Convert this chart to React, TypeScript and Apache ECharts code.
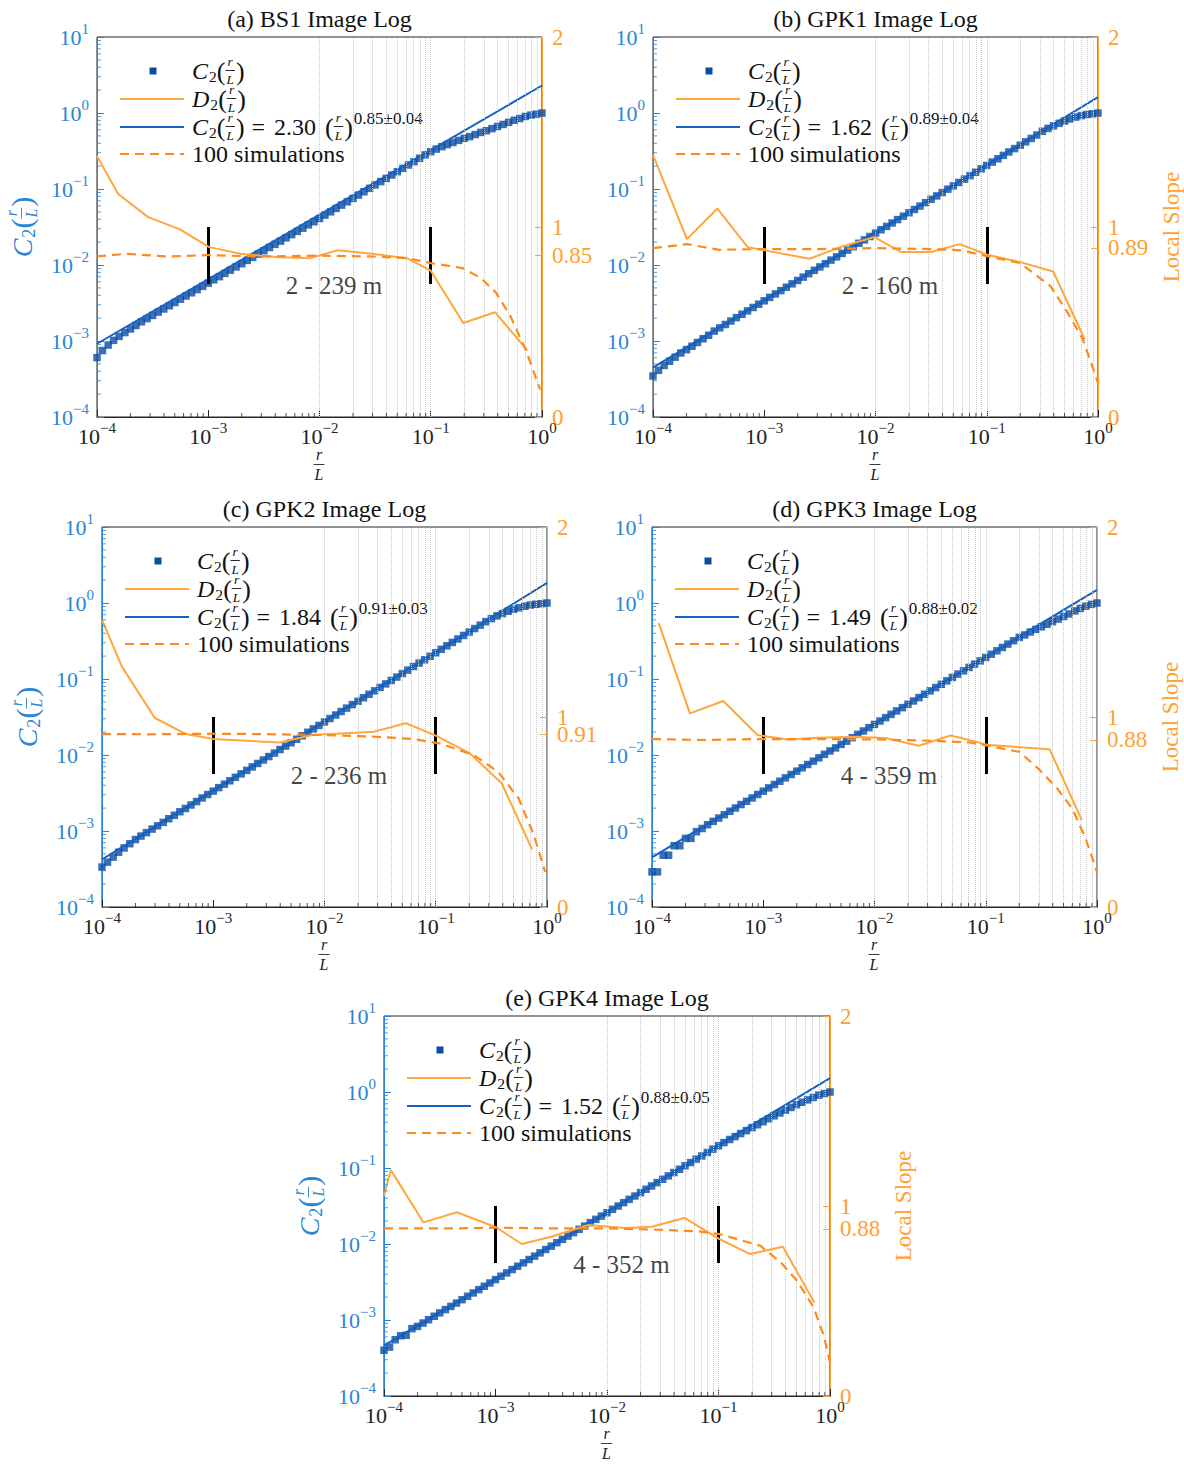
import React, { useEffect, useRef } from 'react';
import * as echarts from 'echarts';

const SERIF = '"Liberation Serif", "Times New Roman", Times, serif';

// ---------- data ----------
const TITLES = ['(a) BS1 Image Log', '(b) GPK1 Image Log', '(c) GPK2 Image Log', '(d) GPK3 Image Log', '(e) GPK4 Image Log'];
const RANGE_TEXT = ['2 - 239 m', '2 - 160 m', '2 - 236 m', '4 - 359 m', '4 - 352 m'];
const FIT_COEF = ['2.30', '1.62', '1.84', '1.49', '1.52'];
const FIT_EXP = ['0.85\u00b10.04', '0.89\u00b10.04', '0.91\u00b10.03', '0.88\u00b10.02', '0.88\u00b10.05'];
const SLOPE_TICK = [0.85, 0.89, 0.91, 0.88, 0.88];
const FIT_X = [1e-4, 1];
const FIT_A = [9.2e-4, 2.3];
const FIT_B = [4.46e-4, 1.62];
const FIT_C = [4.22e-4, 1.84];
const FIT_D = [4.5e-4, 1.49];
const FIT_E = [4.59e-4, 1.52];
const BAR_X = [1e-3, 0.1];
const BAR_Y = [0.7, 1.0];
const RANGE_POS = [0.0135, 0.69];

const X_RL = [
  1e-4, 1.12e-4, 1.26e-4, 1.41e-4, 1.58e-4, 1.78e-4, 2e-4, 2.24e-4, 2.51e-4, 2.82e-4,
  3.16e-4, 3.55e-4, 3.98e-4, 4.47e-4, 5.01e-4, 5.62e-4, 6.31e-4, 7.08e-4, 7.94e-4, 8.91e-4,
  1e-3, 1.12e-3, 1.26e-3, 1.41e-3, 1.58e-3, 1.78e-3, 2e-3, 2.24e-3, 2.51e-3, 2.82e-3,
  3.16e-3, 3.55e-3, 3.98e-3, 4.47e-3, 5.01e-3, 5.62e-3, 6.31e-3, 7.08e-3, 7.94e-3, 8.91e-3,
  1e-2, 1.12e-2, 1.26e-2, 1.41e-2, 1.58e-2, 1.78e-2, 2e-2, 2.24e-2, 2.51e-2, 2.82e-2,
  3.16e-2, 3.55e-2, 3.98e-2, 4.47e-2, 5.01e-2, 5.62e-2, 6.31e-2, 7.08e-2, 7.94e-2, 8.91e-2,
  0.1, 0.112, 0.126, 0.141, 0.158, 0.178, 0.2, 0.224, 0.251, 0.282,
  0.316, 0.355, 0.398, 0.447, 0.501, 0.562, 0.631, 0.708, 0.794, 0.891,
  1,
];

const C2_A = [
  6.05e-4, 7.49e-4, 8.85e-4, 1.02e-3, 1.15e-3, 1.29e-3, 1.44e-3, 1.6e-3, 1.79e-3, 1.97e-3,
  2.17e-3, 2.4e-3, 2.64e-3, 2.91e-3, 3.21e-3, 3.54e-3, 3.91e-3, 4.31e-3, 4.75e-3, 5.24e-3,
  5.78e-3, 6.38e-3, 7.03e-3, 7.75e-3, 8.55e-3, 9.43e-3, 1.04e-2, 1.15e-2, 1.26e-2, 1.39e-2,
  1.54e-2, 1.7e-2, 1.87e-2, 2.06e-2, 2.28e-2, 2.51e-2, 2.77e-2, 3.05e-2, 3.37e-2, 3.71e-2,
  4.09e-2, 4.53e-2, 5.01e-2, 5.55e-2, 6.14e-2, 6.79e-2, 7.52e-2, 8.32e-2, 9.2e-2, 0.102,
  0.113, 0.125, 0.138, 0.153, 0.169, 0.187, 0.207, 0.229, 0.254, 0.281,
  0.31, 0.335, 0.361, 0.384, 0.409, 0.436, 0.465, 0.489, 0.521, 0.555,
  0.585, 0.623, 0.664, 0.707, 0.753, 0.803, 0.845, 0.901, 0.938, 0.965,
  1.0,
];
const C2_B = [
  3.46e-4, 4.11e-4, 4.77e-4, 5.41e-4, 6.13e-4, 6.95e-4, 7.7e-4, 8.53e-4, 9.56e-4, 1.07e-3,
  1.19e-3, 1.35e-3, 1.49e-3, 1.65e-3, 1.83e-3, 2.03e-3, 2.25e-3, 2.49e-3, 2.76e-3, 3.05e-3,
  3.38e-3, 3.75e-3, 4.16e-3, 4.6e-3, 5.1e-3, 5.65e-3, 6.26e-3, 6.93e-3, 7.68e-3, 8.51e-3,
  9.43e-3, 1.04e-2, 1.16e-2, 1.28e-2, 1.42e-2, 1.57e-2, 1.74e-2, 1.93e-2, 2.14e-2, 2.37e-2,
  2.63e-2, 2.91e-2, 3.22e-2, 3.57e-2, 3.96e-2, 4.39e-2, 4.86e-2, 5.38e-2, 5.96e-2, 6.61e-2,
  7.32e-2, 8.11e-2, 8.98e-2, 9.95e-2, 0.11, 0.122, 0.135, 0.15, 0.166, 0.184,
  0.204, 0.226, 0.25, 0.277, 0.307, 0.34, 0.377, 0.418, 0.463, 0.513,
  0.575, 0.627, 0.678, 0.731, 0.784, 0.836, 0.884, 0.925, 0.956, 0.977,
  1.0,
];
const C2_C = [
  3.35e-4, 3.89e-4, 4.53e-4, 5.26e-4, 5.98e-4, 6.8e-4, 7.72e-4, 8.58e-4, 9.52e-4, 1.06e-3,
  1.17e-3, 1.3e-3, 1.45e-3, 1.61e-3, 1.79e-3, 1.98e-3, 2.2e-3, 2.44e-3, 2.72e-3, 3.02e-3,
  3.35e-3, 3.72e-3, 4.13e-3, 4.58e-3, 5.09e-3, 5.65e-3, 6.28e-3, 6.97e-3, 7.74e-3, 8.6e-3,
  9.54e-3, 1.06e-2, 1.18e-2, 1.31e-2, 1.45e-2, 1.61e-2, 1.79e-2, 1.99e-2, 2.21e-2, 2.45e-2,
  2.72e-2, 3.02e-2, 3.36e-2, 3.73e-2, 4.14e-2, 4.6e-2, 5.1e-2, 5.67e-2, 6.29e-2, 6.99e-2,
  7.76e-2, 8.62e-2, 9.57e-2, 0.106, 0.118, 0.131, 0.146, 0.162, 0.179, 0.199,
  0.221, 0.246, 0.273, 0.303, 0.336, 0.374, 0.415, 0.461, 0.511, 0.568,
  0.623, 0.677, 0.726, 0.779, 0.826, 0.866, 0.907, 0.94, 0.963, 0.98,
  1.0,
];
const C2_D = [
  2.9e-4, 2.9e-4, 4.8e-4, 4.8e-4, 6.4e-4, 6.4e-4, 8.0e-4, 8.0e-4, 9.8e-4, 1.08e-3,
  1.21e-3, 1.34e-3, 1.48e-3, 1.64e-3, 1.82e-3, 2.01e-3, 2.23e-3, 2.46e-3, 2.72e-3, 3.02e-3,
  3.34e-3, 3.69e-3, 4.09e-3, 4.52e-3, 5.0e-3, 5.54e-3, 6.13e-3, 6.78e-3, 7.5e-3, 8.3e-3,
  9.19e-3, 1.02e-2, 1.13e-2, 1.24e-2, 1.38e-2, 1.52e-2, 1.69e-2, 1.87e-2, 2.07e-2, 2.29e-2,
  2.53e-2, 2.8e-2, 3.1e-2, 3.43e-2, 3.8e-2, 4.2e-2, 4.65e-2, 5.14e-2, 5.69e-2, 6.3e-2,
  6.97e-2, 7.71e-2, 8.53e-2, 9.45e-2, 0.105, 0.116, 0.128, 0.142, 0.157, 0.173,
  0.192, 0.212, 0.235, 0.26, 0.288, 0.319, 0.353, 0.38, 0.415, 0.449,
  0.486, 0.525, 0.568, 0.614, 0.664, 0.718, 0.786, 0.85, 0.908, 0.96,
  1.0,
];
const C2_E = [
  4.0e-4, 4.4e-4, 5.5e-4, 6.2e-4, 6.3e-4, 7.7e-4, 8.24e-4, 9.12e-4, 1.01e-3, 1.12e-3,
  1.24e-3, 1.37e-3, 1.51e-3, 1.67e-3, 1.85e-3, 2.05e-3, 2.27e-3, 2.51e-3, 2.78e-3, 3.07e-3,
  3.4e-3, 3.77e-3, 4.17e-3, 4.61e-3, 5.1e-3, 5.65e-3, 6.25e-3, 6.92e-3, 7.65e-3, 8.47e-3,
  9.37e-3, 1.04e-2, 1.15e-2, 1.27e-2, 1.41e-2, 1.56e-2, 1.72e-2, 1.91e-2, 2.11e-2, 2.33e-2,
  2.58e-2, 2.86e-2, 3.16e-2, 3.5e-2, 3.87e-2, 4.28e-2, 4.74e-2, 5.25e-2, 5.8e-2, 6.42e-2,
  7.11e-2, 7.87e-2, 8.71e-2, 9.63e-2, 0.107, 0.118, 0.131, 0.144, 0.16, 0.177,
  0.196, 0.216, 0.237, 0.259, 0.284, 0.31, 0.34, 0.371, 0.406, 0.444,
  0.486, 0.529, 0.575, 0.626, 0.681, 0.732, 0.787, 0.847, 0.91, 0.954,
  1.0,
];

const D2X_A = [1e-4, 1.55e-4, 2.88e-4, 5.5e-4, 1.02e-3, 1.95e-3, 4.07e-3, 8.04e-3, 1.45e-2, 2.95e-2, 6.1e-2, 0.1, 0.196, 0.379, 0.736];
const D2Y_A = [1.373, 1.174, 1.052, 0.989, 0.894, 0.859, 0.842, 0.835, 0.877, 0.859, 0.836, 0.77, 0.495, 0.551, 0.352];
const SIMX_A = [1e-4, 1.82e-4, 4.22e-4, 9.77e-4, 2.88e-3, 9.77e-3, 2.82e-2, 6.17e-2, 0.1, 0.193, 0.282, 0.384, 0.521, 0.708, 0.962];
const SIMY_A = [0.845, 0.859, 0.845, 0.852, 0.845, 0.849, 0.845, 0.836, 0.81, 0.784, 0.731, 0.656, 0.53, 0.359, 0.145];

const D2X_B = [1e-4, 2.02e-4, 3.79e-4, 7.1e-4, 1.01e-3, 2.55e-3, 5.04e-3, 9.79e-3, 1.7e-2, 3.18e-2, 5.71e-2, 0.101, 0.2, 0.396, 0.76];
const D2Y_B = [1.379, 0.936, 1.097, 0.894, 0.877, 0.833, 0.898, 0.947, 0.868, 0.868, 0.91, 0.854, 0.815, 0.766, 0.408];
const SIMX_B = [1e-4, 2.02e-4, 3.94e-4, 1.01e-3, 3.03e-3, 9.79e-3, 3.18e-2, 5.94e-2, 0.103, 0.2, 0.375, 0.535, 0.731, 1.0];
const SIMY_B = [0.889, 0.91, 0.88, 0.884, 0.884, 0.889, 0.884, 0.877, 0.845, 0.81, 0.688, 0.548, 0.408, 0.18];

const D2X_C = [1e-4, 1.51e-4, 2.97e-4, 5.68e-4, 1e-3, 3.97e-3, 7.71e-3, 2.79e-2, 5.4e-2, 0.1, 0.203, 0.393, 0.733];
const D2Y_C = [1.511, 1.265, 0.996, 0.91, 0.884, 0.866, 0.905, 0.923, 0.967, 0.902, 0.808, 0.65, 0.304];
const SIMX_C = [1e-4, 2.71e-4, 1e-3, 2.8e-3, 1.01e-2, 2.9e-2, 6.31e-2, 0.109, 0.219, 0.363, 0.557, 0.762, 0.962];
const SIMY_C = [0.91, 0.909, 0.912, 0.91, 0.905, 0.896, 0.884, 0.861, 0.8, 0.712, 0.571, 0.378, 0.185];

const D2X_D = [1.15e-4, 2.19e-4, 4.38e-4, 8.87e-4, 1.66e-3, 3.12e-3, 6.84e-3, 1.28e-2, 2.49e-2, 4.86e-2, 0.107, 0.375, 0.731];
const D2Y_D = [1.494, 1.019, 1.084, 0.905, 0.882, 0.891, 0.896, 0.888, 0.849, 0.903, 0.852, 0.83, 0.457];
const SIMX_D = [1e-4, 2.95e-4, 9.59e-4, 3.12e-3, 1.01e-2, 3.29e-2, 7.21e-2, 0.115, 0.2, 0.296, 0.439, 0.6, 0.791, 1.0];
const SIMY_D = [0.884, 0.879, 0.884, 0.884, 0.882, 0.875, 0.866, 0.844, 0.817, 0.729, 0.624, 0.518, 0.36, 0.185];

const D2X_E = [1e-4, 1.15e-4, 2.25e-4, 4.51e-4, 1.01e-3, 1.72e-3, 3.16e-3, 6.78e-3, 1.45e-2, 2.52e-2, 4.95e-2, 0.102, 0.192, 0.378, 0.724];
const D2Y_E = [1.054, 1.19, 0.914, 0.967, 0.888, 0.8, 0.838, 0.9, 0.884, 0.891, 0.937, 0.826, 0.747, 0.786, 0.492];
const SIMX_E = [1e-4, 4.15e-4, 1.01e-3, 3.44e-3, 1.02e-2, 2.86e-2, 6.67e-2, 0.102, 0.237, 0.362, 0.508, 0.713, 0.881, 1.0];
const SIMY_E = [0.882, 0.882, 0.886, 0.882, 0.882, 0.875, 0.866, 0.852, 0.791, 0.703, 0.606, 0.466, 0.316, 0.176];

const MINOR_X = [
  2e-4, 3e-4, 4e-4, 5e-4, 6e-4, 7e-4, 8e-4, 9e-4,
  2e-3, 3e-3, 4e-3, 5e-3, 6e-3, 7e-3, 8e-3, 9e-3,
  2e-2, 3e-2, 4e-2, 5e-2, 6e-2, 7e-2, 8e-2, 9e-2,
  0.2, 0.3, 0.4, 0.5, 0.6, 0.7, 0.8, 0.9,
];
const MAJOR_X_INNER = [1e-3, 1e-2, 1e-1];
const MINOR_Y = [
  2e-4, 3e-4, 4e-4, 5e-4, 6e-4, 7e-4, 8e-4, 9e-4,
  2e-3, 3e-3, 4e-3, 5e-3, 6e-3, 7e-3, 8e-3, 9e-3,
  2e-2, 3e-2, 4e-2, 5e-2, 6e-2, 7e-2, 8e-2, 9e-2,
  0.2, 0.3, 0.4, 0.5, 0.6, 0.7, 0.8, 0.9,
  2, 3, 4, 5, 6, 7, 8, 9,
];

// ---------- layout / style ----------
const LAYOUT = [
  { L: 97, T: 37, W: 445, H: 380, leftLabel: true, rightLabel: false },
  { L: 653, T: 37, W: 445, H: 380, leftLabel: false, rightLabel: true },
  { L: 102, T: 527, W: 445, H: 380, leftLabel: true, rightLabel: false },
  { L: 652, T: 527, W: 445, H: 380, leftLabel: false, rightLabel: true },
  { L: 384, T: 1016, W: 446, H: 380, leftLabel: true, rightLabel: true },
];
const AX_BLUE = '#2a85d6';
const MARK_BLUE = '#0a4ca3';
const FIT_BLUE = '#1062c4';
const AX_ORANGE = '#ffa030';
const D2_ORANGE = '#ffa63c';
const SIM_ORANGE = '#ff8a1c';
const DARK = '#262626';

let measureCtx: CanvasRenderingContext2D | null = null;
function measure(t: string, size: number, italic: boolean) {
  if (!measureCtx) measureCtx = document.createElement('canvas').getContext('2d');
  measureCtx!.font = `${italic ? 'italic ' : ''}${size}px ${SERIF}`;
  return measureCtx!.measureText(t).width;
}

type Frag = { t?: string; frac?: [string, string]; gap?: number; size: number; italic?: boolean; dy?: number };

function textEl(t: string, x: number, y: number, size: number, italic: boolean, color: string, align = 'left') {
  const font = `${italic ? 'italic ' : ''}${size}px ${SERIF}`;
  return {
    type: 'text', x, y, silent: true,
    style: { text: t, font, fill: color, align, verticalAlign: 'middle', textAlign: align, textVerticalAlign: 'middle' },
  };
}

function mathGroup(frags: Frag[], color: string, x: number, y: number, rotation = 0, center = false) {
  const els: any[] = [];
  let cx = 0;
  for (const f of frags) {
    if (f.gap !== undefined) {
      cx += f.gap;
    } else if (f.frac) {
      const w = Math.max(measure(f.frac[0], f.size, true), measure(f.frac[1], f.size, true)) + 2;
      els.push(textEl(f.frac[0], cx + w / 2, -f.size * 0.58 - 1.5, f.size, true, color, 'center'));
      els.push(textEl(f.frac[1], cx + w / 2, f.size * 0.58 + 0.5, f.size, true, color, 'center'));
      els.push({ type: 'line', silent: true, shape: { x1: cx, y1: -0.5, x2: cx + w, y2: -0.5 }, style: { stroke: color, lineWidth: 0.9 } });
      cx += w + 1;
    } else {
      const t = f.t as string;
      els.push(textEl(t, cx, f.dy || 0, f.size, !!f.italic, color));
      cx += measure(t, f.size, !!f.italic) + (f.italic ? 1 : 0);
    }
  }
  return {
    type: 'group', x, y, rotation, z: 100,
    children: [{ type: 'group', x: center ? -cx / 2 : 0, y: 0, children: els }],
  };
}

function c2Frags(size: number, letter = 'C'): Frag[] {
  return [
    { t: letter, size, italic: true },
    { t: '2', size: size * 0.65, dy: size * 0.24 },
    { t: '(', size: size * 1.08 },
    { frac: ['r', 'L'], size: size * 0.56 },
    { t: ')', size: size * 1.08 },
  ];
}

const supLabel = (v: number) => {
  const e = Math.round(Math.log10(v));
  return `{b|10}{s|${e < 0 ? '\u2212' + -e : e}}`;
};
const supRich = (color: string) => ({
  b: { fontSize: 22, fontFamily: SERIF, color, lineHeight: 32 },
  s: { fontSize: 15, fontFamily: SERIF, color, verticalAlign: 'top', lineHeight: 16 },
});

function buildOption() {
  const C2 = [C2_A, C2_B, C2_C, C2_D, C2_E];
  const FIT = [FIT_A, FIT_B, FIT_C, FIT_D, FIT_E];
  const D2X = [D2X_A, D2X_B, D2X_C, D2X_D, D2X_E];
  const D2Y = [D2Y_A, D2Y_B, D2Y_C, D2Y_D, D2Y_E];
  const SX = [SIMX_A, SIMX_B, SIMX_C, SIMX_D, SIMX_E];
  const SY = [SIMY_A, SIMY_B, SIMY_C, SIMY_D, SIMY_E];

  const grid: any[] = [];
  const xAxis: any[] = [];
  const yAxis: any[] = [];
  const series: any[] = [];
  const graphic: any[] = [];

  LAYOUT.forEach((p, i) => {
    grid.push({ left: p.L, top: p.T, width: p.W, height: p.H, show: true, borderColor: DARK, borderWidth: 1, backgroundColor: 'transparent' });
    xAxis.push({
      type: 'log', logBase: 10, gridIndex: i, min: 1e-4, max: 1,
      axisLine: { show: true, lineStyle: { color: DARK, width: 1 } },
      axisTick: { show: true, inside: true, length: 7, lineStyle: { color: DARK } },
      splitLine: { show: false },
      axisLabel: { formatter: supLabel, rich: supRich('#222'), margin: 3, showMinLabel: true, showMaxLabel: true },
    });
    const ticks = [0, SLOPE_TICK[i], 1, 2];
    yAxis.push({
      type: 'log', logBase: 10, gridIndex: i, position: 'left', min: 1e-4, max: 10,
      axisLine: { show: true, lineStyle: { color: AX_BLUE, width: 1 } },
      axisTick: { show: true, inside: true, length: 7, lineStyle: { color: AX_BLUE } },
      splitLine: { show: false },
      axisLabel: { formatter: supLabel, rich: supRich(AX_BLUE), margin: 8, showMinLabel: true, showMaxLabel: true },
    });
    yAxis.push({
      type: 'value', gridIndex: i, position: 'right', min: 0, max: 2,
      axisLine: { show: true, lineStyle: { color: AX_ORANGE, width: 1 } },
      axisTick: { show: true, inside: true, length: 7, lineStyle: { color: AX_ORANGE }, customValues: ticks },
      splitLine: { show: false },
      axisLabel: { customValues: ticks, fontSize: 23, fontFamily: SERIF, color: AX_ORANGE, margin: 10 },
    });

    const yl = 2 * i;
    const yr = 2 * i + 1;
    series.push({
      type: 'line', xAxisIndex: i, yAxisIndex: yl, data: [[1e-4, 1e-4]], symbol: 'none', silent: true, z: 1,
      lineStyle: { opacity: 0 },
      markLine: {
        silent: true, symbol: ['none', 'none'], label: { show: false },
        lineStyle: { color: '#c6c6c6', type: 'dotted', width: 1 },
        data: MINOR_X.concat(MAJOR_X_INNER).map((v) => ({ xAxis: v })),
      },
    });
    series.push({
      type: 'scatter', xAxisIndex: i, yAxisIndex: yl, silent: true, clip: false, z: 6,
      data: MINOR_X.map((v) => [v, 1e-4]), symbol: 'rect', symbolSize: [1, 4], symbolOffset: [0, -2],
      itemStyle: { color: DARK },
    });
    series.push({
      type: 'scatter', xAxisIndex: i, yAxisIndex: yl, silent: true, clip: false, z: 6,
      data: MINOR_Y.map((v) => [1e-4, v]), symbol: 'rect', symbolSize: [4, 1], symbolOffset: [2, 0],
      itemStyle: { color: AX_BLUE },
    });
    series.push({
      type: 'scatter', xAxisIndex: i, yAxisIndex: yl, z: 3, silent: true,
      data: X_RL.map((x, k) => [x, C2[i][k]]), symbol: 'rect', symbolSize: 7.5,
      itemStyle: { color: MARK_BLUE },
    });
    series.push({
      type: 'line', xAxisIndex: i, yAxisIndex: yl, z: 4, silent: true, symbol: 'none',
      data: FIT_X.map((x, k) => [x, FIT[i][k]]), lineStyle: { color: FIT_BLUE, width: 2 },
    });
    series.push({
      type: 'line', xAxisIndex: i, yAxisIndex: yr, z: 5, silent: true, symbol: 'none',
      data: D2X[i].map((x, k) => [x, D2Y[i][k]]), lineStyle: { color: D2_ORANGE, width: 2 },
      markLine: {
        silent: true, symbol: ['none', 'none'], label: { show: false },
        lineStyle: { color: '#000', width: 3, type: 'solid' },
        data: BAR_X.map((bx) => [{ coord: [bx, BAR_Y[0]] }, { coord: [bx, BAR_Y[1]] }]),
      },
    });
    series.push({
      type: 'line', xAxisIndex: i, yAxisIndex: yr, z: 5, silent: true, symbol: 'none',
      data: SX[i].map((x, k) => [x, SY[i][k]]), lineStyle: { color: SIM_ORANGE, width: 2.2, type: [9, 6] },
    });
    series.push({
      type: 'scatter', xAxisIndex: i, yAxisIndex: yr, z: 7, silent: true,
      data: [[RANGE_POS[0], RANGE_POS[1]]], symbolSize: 1, itemStyle: { color: 'transparent' },
      label: { show: true, position: 'inside', formatter: () => RANGE_TEXT[i], fontSize: 25, fontFamily: SERIF, color: '#111' },
    });

    graphic.push(textEl(TITLES[i], p.L + p.W / 2, p.T - 18, 24, false, '#111', 'center'));
    const lx = p.L;
    const ty = p.T;
    graphic.push({ type: 'rect', silent: true, z: 100, shape: { x: lx + 56 - 3.5, y: ty + 34 - 3.5, width: 7, height: 7 }, style: { fill: MARK_BLUE } });
    graphic.push({ type: 'line', silent: true, z: 100, shape: { x1: lx + 23, y1: ty + 62, x2: lx + 87, y2: ty + 62 }, style: { stroke: D2_ORANGE, lineWidth: 2 } });
    graphic.push({ type: 'line', silent: true, z: 100, shape: { x1: lx + 23, y1: ty + 90, x2: lx + 87, y2: ty + 90 }, style: { stroke: FIT_BLUE, lineWidth: 2 } });
    graphic.push({ type: 'line', silent: true, z: 100, shape: { x1: lx + 23, y1: ty + 117, x2: lx + 87, y2: ty + 117 }, style: { stroke: SIM_ORANGE, lineWidth: 2.2, lineDash: [9, 6] } });
    graphic.push(mathGroup(c2Frags(24), '#111', lx + 95, ty + 34));
    graphic.push(mathGroup(c2Frags(24, 'D'), '#111', lx + 95, ty + 62));
    graphic.push(mathGroup(
      c2Frags(24).concat([
        { gap: 7, size: 0 },
        { t: '=', size: 24 },
        { gap: 9, size: 0 },
        { t: FIT_COEF[i], size: 24 },
        { gap: 9, size: 0 },
        { t: '(', size: 26 },
        { frac: ['r', 'L'], size: 13.4 },
        { t: ')', size: 26 },
        { gap: 1, size: 0 },
        { t: FIT_EXP[i], size: 17, dy: -9 },
      ]),
      '#111', lx + 95, ty + 90,
    ));
    graphic.push(textEl('100 simulations', lx + 95, ty + 117, 24, false, '#111'));
    graphic.push(mathGroup([{ frac: ['r', 'L'], size: 16 }], '#222', p.L + p.W / 2, p.T + p.H + 48, 0, true));
    if (p.leftLabel) {
      graphic.push(mathGroup(c2Frags(28), AX_BLUE, p.L - 75, p.T + p.H / 2, Math.PI / 2, true));
    }
    if (p.rightLabel) {
      graphic.push({
        type: 'group', x: p.L + p.W + 73, y: p.T + p.H / 2, rotation: Math.PI / 2, z: 100,
        children: [textEl('Local Slope', 0, 0, 23, false, AX_ORANGE, 'center')],
      });
    }
  });

  return {
    animation: false,
    backgroundColor: '#ffffff',
    grid, xAxis, yAxis, series, graphic,
  };
}

export default function App() {
  const ref = useRef<HTMLDivElement>(null);
  useEffect(() => {
    const chart = echarts.init(ref.current as HTMLDivElement, null, { renderer: 'svg' });
    chart.setOption(buildOption() as any);
    return () => chart.dispose();
  }, []);
  return <div ref={ref} style={{ position: 'absolute', left: 0, top: 0, width: 1184, height: 1466, background: '#fff' }} />;
}
